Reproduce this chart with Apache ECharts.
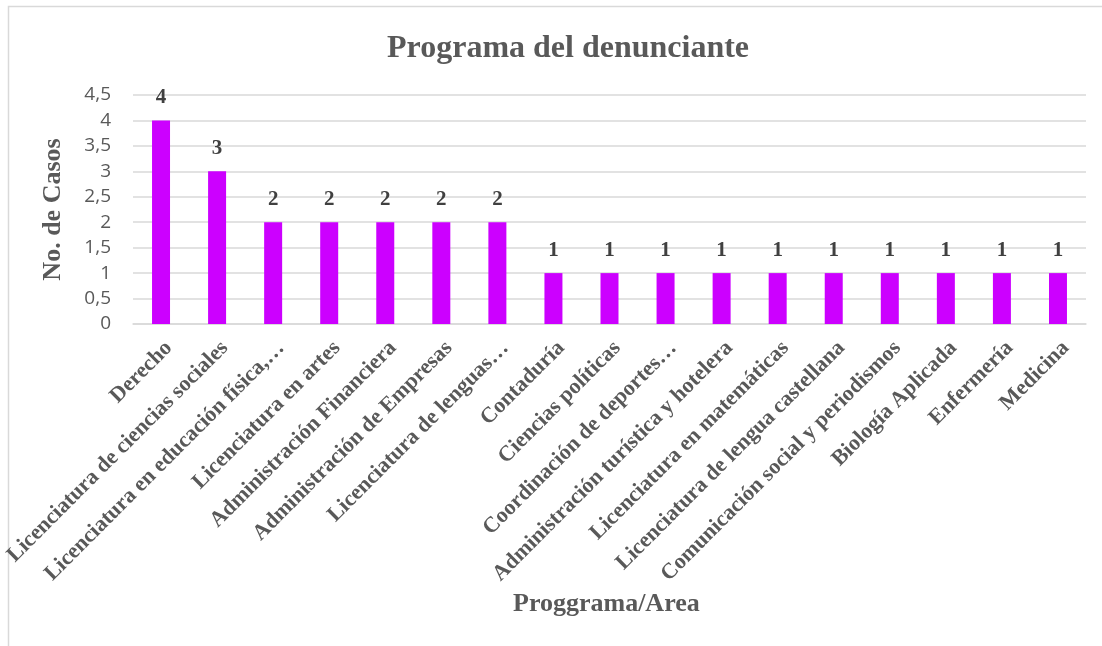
<!DOCTYPE html>
<html>
<head>
<meta charset="utf-8">
<script src="https://cdn.jsdelivr.net/npm/echarts@6/dist/echarts.min.js"></script>
<style>
  html, body { margin: 0; padding: 0; background: #fff; }
  #chart { width: 1102px; height: 646px; }
</style>
</head>
<body>
<div id="chart"></div>
<script>
// programas / áreas
var programas = [
  'Derecho',
  'Licenciatura de ciencias sociales',
  'Licenciatura en educación física,…',
  'Licenciatura en artes',
  'Administración Financiera',
  'Administración de Empresas',
  'Licenciatura de lenguas…',
  'Contaduría',
  'Ciencias políticas',
  'Coordinación de deportes…',
  'Administración turística y hotelera',
  'Licenciatura en matemáticas',
  'Licenciatura de lengua castellana',
  'Comunicación social y periodismos',
  'Biología Aplicada',
  'Enfermería',
  'Medicina'
];
// número de casos
var casos = [4, 3, 2, 2, 2, 2, 2, 1, 1, 1, 1, 1, 1, 1, 1, 1, 1];

var serif = '"Liberation Serif", "Times New Roman", serif';
var gris = '#595959';

var myChart = echarts.init(document.getElementById('chart'));

var option = {
  animation: false,
  title: {
    text: 'Programa del denunciante',
    left: 382,
    top: 28,
    textStyle: {
      fontFamily: serif,
      fontWeight: 'bold',
      fontSize: 32,
      color: gris
    }
  },
  graphic: [{
    type: 'rect',
    shape: { x: 8.5, y: 6.5, width: 1100, height: 700 },
    style: { fill: 'none', stroke: '#d9d9d9', lineWidth: 1.5 },
    silent: true
  }, {
    type: 'text',
    left: 513,
    top: 591,
    style: {
      text: 'Proggrama/Area',
      font: 'bold 26px ' + serif,
      fill: gris
    }
  }],
  grid: {
    left: 133,
    right: 16,
    top: 95,
    height: 229
  },
  xAxis: {
    type: 'category',
    data: programas,
    axisLine: { lineStyle: { color: '#d9d9d9', width: 1.5 } },
    axisTick: { show: false },
    axisLabel: {
      rotate: 45,
      interval: 0,
      margin: 13,
      verticalAlign: 'top',
      fontFamily: serif,
      fontWeight: 'bold',
      fontSize: 22,
      color: gris
    }
  },
  yAxis: {
    type: 'value',
    min: 0,
    max: 4.5,
    interval: 0.5,
    name: 'No. de Casos',
    nameLocation: 'middle',
    nameGap: 67,
    nameTextStyle: {
      fontFamily: serif,
      fontWeight: 'bold',
      fontSize: 26,
      color: gris
    },
    axisLine: { show: false },
    axisTick: { show: false },
    splitLine: { lineStyle: { color: '#d9d9d9', width: 1.5 } },
    axisLabel: {
      margin: 22,
      fontFamily: '"Open Sans", "Liberation Sans", sans-serif',
      fontSize: 19,
      color: gris,
      formatter: function (v) { return String(v).replace('.', ','); }
    }
  },
  series: [{
    type: 'bar',
    data: casos,
    barWidth: 18,
    itemStyle: { color: '#cc00ff' },
    label: {
      show: true,
      position: 'top',
      distance: 12,
      fontFamily: serif,
      fontWeight: 'bold',
      fontSize: 21,
      color: '#404040'
    }
  }]
};

myChart.setOption(option);
</script>
</body>
</html>
